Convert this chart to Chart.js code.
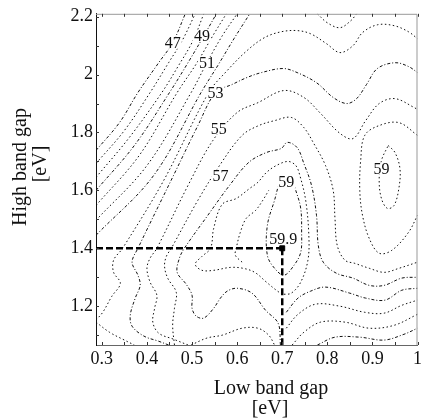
<!DOCTYPE html>
<html>
<head>
<meta charset="utf-8">
<script src="https://cdn.jsdelivr.net/npm/chart.js@4.4.1/dist/chart.umd.min.js"></script>
<style>
  html, body { margin: 0; padding: 0; background: #fff; }
  #wrap { width: 425px; height: 419px; }
</style>
</head>
<body>
<div id="wrap"><canvas id="chart"></canvas></div>
<script>
// axis ticks
const xTicks = [0.3, 0.4, 0.5, 0.6, 0.7, 0.8, 0.9, 1.0]
const yTicks = [1.2, 1.4, 1.6, 1.8, 2.0, 2.2]

// contour lines, [low gap, high gap]
const d1 = [[0.287,1.738],[0.339,1.834],[0.380,1.938],[0.426,2.041],[0.457,2.110],[0.485,2.210]]
const d2 = [[0.287,1.693],[0.350,1.807],[0.407,1.938],[0.448,2.041],[0.478,2.117],[0.507,2.210]]
const d3 = [[0.287,1.645],[0.361,1.783],[0.433,1.938],[0.470,2.031],[0.502,2.117],[0.526,2.210]]
const d4 = [[0.287,1.600],[0.372,1.755],[0.450,1.938],[0.491,2.041],[0.524,2.128],[0.554,2.210]]
const d5 = [[0.287,1.548],[0.383,1.721],[0.467,1.938],[0.511,2.041],[0.546,2.134],[0.576,2.210]]
const d6 = [[0.287,1.497],[0.400,1.686],[0.498,1.938],[0.533,2.041],[0.567,2.134],[0.600,2.210]]
const d7 = [[0.287,1.445],[0.415,1.652],[0.520,1.938],[0.557,2.031],[0.593,2.124],[0.628,2.210]]
const topDip = [[0.778,2.210],[0.800,2.179],[0.828,2.162],[0.852,2.186],[0.865,2.210]]

const s1 = [[0.287,1.152],[0.302,1.179],[0.322,1.234],[0.341,1.279],[0.326,1.317],[0.326,1.359],[0.346,1.400],
  [0.437,1.634],[0.537,1.938],[0.578,2.014],[0.622,2.083],[0.661,2.128],[0.698,2.148],[0.733,2.152],[0.763,2.141],
  [0.798,2.107],[0.828,2.076],[0.857,2.100],[0.878,2.145],[0.911,2.172],[0.948,2.169],[0.980,2.148],[1.0,2.124]]
const s2 = [[0.448,1.066],[0.426,1.079],[0.393,1.097],[0.367,1.131],[0.363,1.169],[0.374,1.228],[0.385,1.272],
  [0.380,1.307],[0.367,1.352],[0.380,1.400],[0.459,1.652],[0.513,1.824],[0.552,1.938],[0.589,1.966],[0.622,1.990],
  [0.654,2.007],[0.702,2.021],[0.733,2.007],[0.776,1.972],[0.813,1.921],[0.843,1.900],[0.865,1.917],[0.887,1.966],
  [0.911,2.021],[0.950,2.041],[0.980,2.028],[1.0,2.007]]
const s3 = [[0.491,1.066],[0.459,1.086],[0.426,1.107],[0.413,1.145],[0.417,1.193],[0.422,1.238],[0.407,1.283],
  [0.400,1.331],[0.407,1.366],[0.422,1.400],[0.491,1.617],[0.546,1.772],[0.600,1.869],[0.646,1.903],[0.704,1.945],
  [0.748,1.921],[0.785,1.866],[0.828,1.797],[0.857,1.779],[0.885,1.841],[0.915,1.900],[0.950,1.917],[0.993,1.886],[1.0,1.879]]
const s4 = [[0.461,1.066],[0.457,1.134],[0.461,1.193],[0.465,1.248],[0.446,1.297],[0.439,1.338],[0.443,1.372],
  [0.454,1.400],[0.513,1.566],[0.561,1.686],[0.611,1.790],[0.648,1.824],[0.683,1.841],[0.720,1.852],[0.748,1.817],
  [0.770,1.762],[0.796,1.686],[0.813,1.600],[0.817,1.503],[0.822,1.410],[0.839,1.359],[0.861,1.348],[0.893,1.331],
  [0.926,1.317],[0.959,1.331],[1.0,1.352]]
const s5 = [[0.696,1.066],[0.691,1.141],[0.663,1.186],[0.633,1.245],[0.600,1.262],[0.578,1.252],[0.563,1.228],
  [0.548,1.193],[0.526,1.159],[0.509,1.166],[0.500,1.193],[0.500,1.238],[0.487,1.276],[0.467,1.317],[0.472,1.366],
  [0.483,1.400],[0.535,1.514],[0.583,1.617],[0.626,1.697],[0.665,1.731],[0.698,1.745],[0.711,1.766],[0.733,1.748],
  [0.748,1.693],[0.765,1.617],[0.776,1.514],[0.780,1.410],[0.791,1.352],[0.820,1.314],[0.857,1.297],[0.893,1.272],
  [0.926,1.272],[0.965,1.297],[1.0,1.300]]
const loop58 = [[0.700,1.241],[0.687,1.255],[0.665,1.283],[0.639,1.317],[0.613,1.331],[0.585,1.334],[0.548,1.324],
  [0.522,1.324],[0.507,1.345],[0.522,1.372],[0.541,1.400],[0.548,1.469],[0.567,1.552],[0.598,1.572],[0.628,1.607],
  [0.646,1.628],[0.665,1.662],[0.687,1.686],[0.713,1.700],[0.730,1.686],[0.739,1.652],[0.752,1.566],[0.759,1.445],
  [0.757,1.359],[0.741,1.283],[0.720,1.245],[0.700,1.241]]
const inner585 = [[0.611,1.352],[0.596,1.376],[0.598,1.400],[0.607,1.455],[0.620,1.503],[0.641,1.531],[0.657,1.566],[0.670,1.600]]
const ring59 = [[0.709,1.641],[0.722,1.631],[0.730,1.600],[0.741,1.538],[0.743,1.455],[0.741,1.386],[0.726,1.341],
  [0.704,1.307],[0.683,1.331],[0.667,1.376],[0.667,1.479],[0.683,1.566],[0.696,1.631],[0.709,1.641]]
const right58 = [[1.0,1.790],[0.959,1.834],[0.915,1.824],[0.883,1.790],[0.874,1.703],[0.872,1.600],[0.878,1.514],
  [0.893,1.434],[0.915,1.383],[0.943,1.393],[0.980,1.455],[1.0,1.514]]
const right59 = [[0.935,1.755],[0.950,1.731],[0.961,1.676],[0.959,1.610],[0.948,1.548],[0.933,1.538],[0.920,1.572],
  [0.915,1.634],[0.920,1.703],[0.935,1.755]]
const r3 = [[0.709,1.179],[0.735,1.228],[0.763,1.252],[0.796,1.266],[0.850,1.245],[0.885,1.228],[0.928,1.221],[0.965,1.255],[1.0,1.262]]
const r4 = [[0.709,1.124],[0.735,1.172],[0.774,1.207],[0.828,1.200],[0.883,1.179],[0.926,1.176],[0.965,1.203],[1.0,1.221]]
const r5 = [[0.722,1.066],[0.748,1.110],[0.785,1.145],[0.839,1.145],[0.893,1.124],[0.948,1.134],[1.0,1.172]]
const r6 = [[0.778,1.066],[0.817,1.093],[0.872,1.093],[0.926,1.083],[0.970,1.103],[1.0,1.124]]
const b1 = [[0.287,1.145],[0.317,1.110],[0.350,1.083],[0.372,1.066]]
const b2 = [[0.498,1.066],[0.533,1.090],[0.567,1.100],[0.611,1.124],[0.646,1.124],[0.670,1.100],[0.683,1.066]]

// optimum and guide lines
const optimum = [0.7, 1.4]
const xMin = 0.287
const yMin = 1.066

// contour labels
const labelText = ['47', '49', '51', '53', '55', '57', '59', '59', '59.9']
const labelX = [0.457, 0.522, 0.533, 0.552, 0.559, 0.563, 0.709, 0.920, 0.702]
const labelY = [2.110, 2.134, 2.041, 1.938, 1.814, 1.652, 1.628, 1.676, 1.433]

const contourLines = [d1, d2, d3, d4, d5, d6, d7, topDip, s1, s2, s3, s4, s5, loop58, inner585,
  ring59, right58, right59, r3, r4, r5, r6, b1, b2]

const serif = '"Liberation Serif", "DejaVu Serif", serif'
Chart.defaults.font.family = serif
Chart.defaults.color = '#111'

const toXY = (pts) => pts.map((p) => ({ x: p[0], y: p[1] }))

const datasets = contourLines.map((pts, i) => ({
    data: toXY(pts),
    showLine: true,
    borderColor: '#111',
    borderWidth: 1,
    borderDash: i % 3 === 0 ? [3, 2, 1, 2] : [1.5, 2.5],
    pointRadius: 0,
    tension: 0.35,
    order: 2,
}))

datasets.push({
    data: [{ x: xMin, y: optimum[1] }, { x: optimum[0], y: optimum[1] }],
    showLine: true,
    borderColor: '#000',
    borderWidth: 2.5,
    borderDash: [7, 3],
    pointRadius: 0,
    order: 1,
})
datasets.push({
    data: [{ x: optimum[0], y: optimum[1] }, { x: optimum[0], y: yMin }],
    showLine: true,
    borderColor: '#000',
    borderWidth: 2.5,
    borderDash: [7, 3],
    pointRadius: 0,
    order: 1,
})
datasets.push({
    data: [{ x: optimum[0], y: optimum[1] }],
    pointStyle: 'rect',
    pointRadius: 3.5,
    backgroundColor: '#000',
    borderColor: '#000',
    order: 0,
})

const framePlugin = {
    id: 'frame',
    afterDatasetsDraw(chart) {
        const { ctx, chartArea: a, scales } = chart
        const xs = scales.x
        const ys = scales.y
        ctx.save()
        // contour labels
        ctx.font = '16px ' + serif
        ctx.textAlign = 'center'
        ctx.textBaseline = 'middle'
        labelText.forEach((t, i) => {
            const px = xs.getPixelForValue(labelX[i])
            const py = ys.getPixelForValue(labelY[i])
            const w = ctx.measureText(t).width
            ctx.fillStyle = '#fff'
            ctx.fillRect(px - w / 2 - 1, py - 6, w + 2, 12)
            ctx.fillStyle = '#111'
            ctx.fillText(t, px, py + 1)
        })
        // frame: top and right lighter
        ctx.strokeStyle = '#999'
        ctx.lineWidth = 1
        ctx.beginPath()
        ctx.moveTo(a.left, a.top + 0.5)
        ctx.lineTo(a.right - 0.5, a.top + 0.5)
        ctx.lineTo(a.right - 0.5, a.bottom)
        ctx.stroke()
        // inward ticks
        ctx.strokeStyle = '#333'
        ctx.beginPath()
        for (let v = 1.1; v < 2.21; v += 0.1) {
            const py = Math.round(ys.getPixelForValue(v)) + 0.5
            ctx.moveTo(a.left, py)
            ctx.lineTo(a.left + 3, py)
        }
        for (let v = 0.3; v <= 1.0001; v += 0.05) {
            const px = Math.round(xs.getPixelForValue(v)) + 0.5
            ctx.moveTo(px, a.bottom)
            ctx.lineTo(px, a.bottom - 3)
            ctx.moveTo(px, a.top)
            ctx.lineTo(px, a.top + 3)
        }
        ctx.stroke()
        ctx.restore()
    },
    afterDraw(chart) {
        const { ctx } = chart
        ctx.save()
        ctx.fillStyle = '#111'
        ctx.font = '20px ' + serif
        ctx.textAlign = 'center'
        ctx.textBaseline = 'alphabetic'
        ctx.fillText('Low band gap', 271, 394)
        ctx.fillText('[eV]', 270, 414)
        ctx.translate(26, 167)
        ctx.rotate(-Math.PI / 2)
        ctx.fillText('High band gap', 0, 0)
        ctx.fillText('[eV]', 3, 20)
        ctx.restore()
    },
}

const config = {
    type: 'scatter',
    data: { datasets: datasets },
    options: {
        responsive: true,
        maintainAspectRatio: false,
        animation: false,
        layout: { padding: { top: 13, right: 1, left: 0, bottom: 0 } },
        plugins: { legend: { display: false }, tooltip: { enabled: false } },
        scales: {
            x: {
                type: 'linear',
                min: xMin,
                max: 1.0,
                grid: { display: false, drawTicks: false },
                border: { color: '#666', width: 1 },
                ticks: {
                    font: { size: 18 },
                    color: '#111',
                    padding: 3,
                    maxRotation: 0,
                    callback: (v) => (v === 1 ? '1' : v.toFixed(1)),
                },
                afterBuildTicks: (axis) => {
                    axis.ticks = xTicks.map((v) => ({ value: v }))
                },
                afterFit: (axis) => {
                    axis.height = 74
                },
            },
            y: {
                type: 'linear',
                min: yMin,
                max: 2.21,
                grid: { display: false, drawTicks: false },
                border: { color: '#111', width: 1 },
                ticks: {
                    font: { size: 18 },
                    color: '#111',
                    padding: 3,
                    callback: (v) => (Math.abs(v - 2) < 1e-6 ? '2' : v.toFixed(1)),
                },
                afterBuildTicks: (axis) => {
                    axis.ticks = yTicks.map((v) => ({ value: v }))
                },
                afterFit: (axis) => {
                    axis.width = 96
                },
            },
        },
    },
    plugins: [framePlugin],
}

const myChart = new Chart(document.getElementById('chart'), config)
</script>
</body>
</html>
